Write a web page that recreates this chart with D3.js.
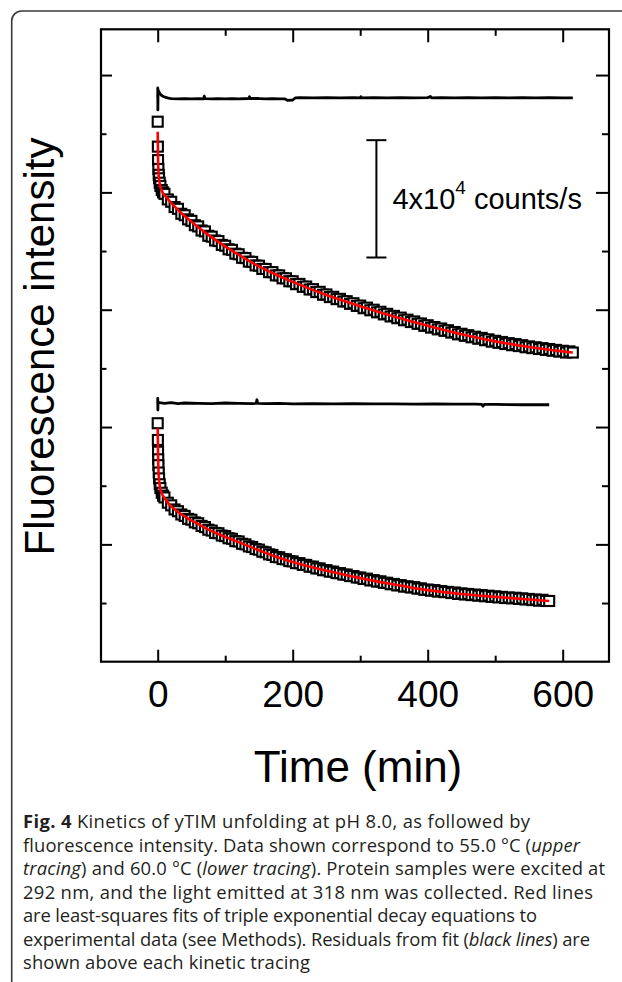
<!DOCTYPE html>
<html>
<head>
<meta charset="utf-8">
<script src="https://cdn.jsdelivr.net/npm/d3@7"></script>
<style>
  body { margin: 0; background: #fff; }
  svg { display: block; }
</style>
</head>
<body>
<svg id="chart" width="622" height="982"></svg>
<script>

// upper tracing (55.0 C), fluorescence in units of 10^4 counts/s
const upperTime = [0, 0.25, 0.5, 1, 1.5, 2, 3, 4, 6, 8,
    10, 15, 20, 25, 30, 35, 40, 45, 50, 55, 60, 65, 70, 75, 80, 85, 90, 95, 100, 105,
    110, 115, 120, 125, 130, 135, 140, 145, 150, 155, 160, 165, 170, 175, 180, 185, 190, 195, 200, 205,
    210, 215, 220, 225, 230, 235, 240, 245, 250, 255, 260, 265, 270, 275, 280, 285, 290, 295, 300, 305,
    310, 315, 320, 325, 330, 335, 340, 345, 350, 355, 360, 365, 370, 375, 380, 385, 390, 395, 400, 405,
    410, 415, 420, 425, 430, 435, 440, 445, 450, 455, 460, 465, 470, 475, 480, 485, 490, 495, 500, 505,
    510, 515, 520, 525, 530, 535, 540, 545, 550, 555, 560, 565, 570, 575, 580, 585, 590, 595, 600, 605,
    610, 615];
const upperCounts = [18.41, 17.56, 17.10, 16.80, 16.60, 16.48, 16.33, 16.22, 16.08, 16.00,
    15.95, 15.76, 15.68, 15.50, 15.44, 15.27, 15.22, 15.08, 15.03, 14.88, 14.84, 14.70, 14.67, 14.52, 14.49, 14.36, 14.34, 14.21, 14.18, 14.06,
    14.04, 13.91, 13.89, 13.77, 13.76, 13.64, 13.63, 13.51, 13.50, 13.39, 13.39, 13.28, 13.28, 13.17, 13.17, 13.07, 13.07, 12.97, 12.97, 12.87,
    12.88, 12.78, 12.79, 12.69, 12.70, 12.60, 12.61, 12.51, 12.52, 12.43, 12.44, 12.36, 12.37, 12.28, 12.29, 12.20, 12.22, 12.13, 12.14, 12.05,
    12.07, 11.98, 12.00, 11.91, 11.93, 11.84, 11.86, 11.77, 11.79, 11.71, 11.73, 11.64, 11.66, 11.58, 11.60, 11.52, 11.53, 11.45, 11.47, 11.39,
    11.41, 11.33, 11.36, 11.28, 11.30, 11.22, 11.24, 11.16, 11.18, 11.11, 11.13, 11.06, 11.08, 11.01, 11.04, 10.96, 10.99, 10.91, 10.94, 10.87,
    10.90, 10.83, 10.86, 10.79, 10.83, 10.76, 10.79, 10.72, 10.75, 10.69, 10.72, 10.66, 10.69, 10.63, 10.66, 10.60, 10.63, 10.57, 10.60, 10.54,
    10.58, 10.54];
const upperFitTime = [0, 0.5, 1, 2, 3, 5, 8, 15, 20, 33, 50, 75, 100, 125, 150, 175, 200, 250, 300, 350, 400, 450, 500, 550, 600, 615];
const upperFit = [18.07, 17.20, 16.75, 16.45, 16.30, 16.12, 15.97, 15.78, 15.64, 15.34, 15.00, 14.55, 14.16, 13.80, 13.48, 13.20, 12.95, 12.50, 12.12, 11.77, 11.45, 11.16, 10.92, 10.73, 10.58, 10.54];

// lower tracing (60.0 C)
const lowerTime = [0, 0.25, 0.5, 0.75, 1, 1.5, 2, 3, 4, 6, 8,
    10, 15, 20, 25, 30, 35, 40, 45, 50, 55, 60, 65, 70, 75, 80, 85, 90, 95, 100, 105,
    110, 115, 120, 125, 130, 135, 140, 145, 150, 155, 160, 165, 170, 175, 180, 185, 190, 195, 200, 205,
    210, 215, 220, 225, 230, 235, 240, 245, 250, 255, 260, 265, 270, 275, 280, 285, 290, 295, 300, 305,
    310, 315, 320, 325, 330, 335, 340, 345, 350, 355, 360, 365, 370, 375, 380, 385, 390, 395, 400, 405,
    410, 415, 420, 425, 430, 435, 440, 445, 450, 455, 460, 465, 470, 475, 480, 485, 490, 495, 500, 505,
    510, 515, 520, 525, 530, 535, 540, 545, 550, 555, 560, 565, 570, 575, 580];
const lowerCounts = [8.13, 7.56, 7.16, 6.90, 6.70, 6.45, 6.25, 6.05, 5.92, 5.76, 5.66,
    5.60, 5.42, 5.33, 5.19, 5.13, 5.02, 4.97, 4.87, 4.84, 4.75, 4.72, 4.63, 4.59, 4.50, 4.47, 4.39, 4.38, 4.30, 4.28, 4.21,
    4.19, 4.11, 4.10, 4.02, 4.00, 3.93, 3.91, 3.84, 3.82, 3.75, 3.73, 3.66, 3.64, 3.57, 3.56, 3.50, 3.49, 3.43, 3.42, 3.36,
    3.36, 3.30, 3.30, 3.24, 3.24, 3.18, 3.18, 3.12, 3.12, 3.07, 3.07, 3.02, 3.02, 2.97, 2.97, 2.92, 2.92, 2.87, 2.87, 2.82,
    2.83, 2.77, 2.78, 2.73, 2.74, 2.69, 2.69, 2.64, 2.65, 2.60, 2.61, 2.56, 2.57, 2.53, 2.54, 2.49, 2.50, 2.45, 2.46, 2.42,
    2.44, 2.39, 2.41, 2.37, 2.38, 2.34, 2.36, 2.31, 2.33, 2.29, 2.31, 2.27, 2.29, 2.25, 2.27, 2.23, 2.25, 2.21, 2.23, 2.19,
    2.21, 2.17, 2.19, 2.16, 2.18, 2.14, 2.16, 2.12, 2.14, 2.10, 2.12, 2.08, 2.11, 2.07, 2.07];
const lowerFitTime = [0, 0.5, 1, 2, 3, 6, 10, 18, 25, 33, 45, 58, 82, 112, 150, 175, 200, 250, 300, 350, 400, 450, 500, 550, 580];
const lowerFit = [7.96, 7.10, 6.60, 6.20, 6.00, 5.74, 5.58, 5.34, 5.20, 5.06, 4.88, 4.72, 4.43, 4.15, 3.80, 3.58, 3.40, 3.10, 2.85, 2.63, 2.44, 2.31, 2.21, 2.12, 2.07];

// residuals of the fits, drawn shifted above each tracing
const upperResidOffset = 19.22;
const upperResidTime = [0, 0.1, 0.25, 0.5, 1, 2, 3, 5, 8, 12, 16, 20, 30, 40, 50, 60, 68, 69, 70, 80, 90, 100, 110, 120, 135, 136, 137,
    150, 160, 170, 180, 188, 192, 200, 204, 210, 230, 250, 270, 290, 300, 301, 302, 320, 340, 360, 380, 400, 404, 406,
    420, 440, 460, 480, 500, 520, 540, 560, 580, 600, 615];
const upperResid = [0, 0.34, -0.41, 0.28, 0.24, 0.20, 0.16, 0.10, 0.05, 0.02, -0.01, -0.02, -0.03, -0.02, -0.03, -0.02, -0.03, 0.06, -0.02, -0.03, -0.02, -0.03, -0.02, -0.03, -0.02, 0.04, -0.02,
    -0.02, -0.03, -0.02, -0.03, -0.03, -0.08, -0.07, 0.00, 0.01, 0.00, 0.01, 0.00, 0.01, 0.00, 0.04, 0.00, 0.01, 0.00, 0.01, 0.00, 0.01, 0.05, 0.00,
    0.01, 0.00, 0.01, 0.00, 0.01, 0.00, 0.01, 0.00, 0.01, 0.00, 0.00];

const lowerResidOffset = 8.81;
const lowerResidTime = [0, 0.1, 0.25, 0.5, 1, 3, 10, 20, 30, 40, 60, 80, 100, 120, 140, 146, 147, 148, 160, 180, 200,
    230, 260, 290, 320, 350, 380, 410, 440, 470, 480, 482, 484, 500, 540, 580];
const lowerResid = [0, 0.17, -0.23, 0.05, 0.03, 0.02, 0.00, 0.02, -0.01, 0.01, 0.00, -0.01, 0.01, 0.00, -0.01, 0.00, 0.12, 0.00, -0.01, 0.00, -0.02,
    -0.01, -0.02, -0.01, -0.02, -0.02, -0.03, -0.02, -0.03, -0.03, -0.04, -0.10, -0.04, -0.04, -0.05, -0.05];

// scale bar: 4x10^4 counts/s
const scaleBar = { time: 324, from: 13.78, to: 17.78 };

const xMajorTicks = [0, 200, 400, 600];
const xMinorTicks = [100, 300, 500];
const yMajorTicks = [4, 8, 12, 16, 20];
const yMinorTicks = [2, 6, 10, 14, 18];

const captionLines = [
    [["b", "Fig. 4"], ["", " Kinetics of yTIM unfolding at pH 8.0, as followed by"]],
    [["", "fluorescence intensity. Data shown correspond to 55.0 °C ("], ["i", "upper"]],
    [["i", "tracing"], ["", ") and 60.0 °C ("], ["i", "lower tracing"], ["", "). Protein samples were excited at"]],
    [["", "292 nm, and the light emitted at 318 nm was collected. Red lines"]],
    [["", "are least-squares fits of triple exponential decay equations to"]],
    [["", "experimental data (see Methods). Residuals from fit ("], ["i", "black lines"], ["", ") are"]],
    [["", "shown above each kinetic tracing"]]
];
const captionWidths = [507, 557, 582, 570, 514, 567, 287];

const svg = d3.select("#chart");
const margin = { top: 29.3, right: 13, bottom: 320.3, left: 101 };
const width = +svg.attr("width") - margin.left - margin.right;
const height = +svg.attr("height") - margin.top - margin.bottom;
const plotFont = "'Liberation Sans', Arial, sans-serif";

// outer panel border (rounded top-left corner)
svg.append("path")
    .attr("d", "M11.7,982 V21 A10,10 0 0 1 21.7,11 H622")
    .attr("fill", "none")
    .attr("stroke", "#3a3a3a")
    .attr("stroke-width", 1.6);

const chartArea = svg.append("g").attr("transform", `translate(${margin.left},${margin.top})`);

const xScale = d3.scaleLinear().domain([-84, 668.6]).range([0, width]);
const yScale = d3.scaleLinear().domain([0, 21.56]).range([height, 0]);

// axes, ticks pointing inward on all four sides
function addAxis(axis, transform) {
    const g = chartArea.append("g").attr("transform", transform).call(axis);
    g.select(".domain").remove();
    g.selectAll(".tick line").attr("stroke", "#000").attr("stroke-width", 2);
    return g;
}

const bottomMajor = addAxis(d3.axisBottom(xScale).tickValues(xMajorTicks).tickSizeInner(-12).tickSizeOuter(0).tickPadding(19),
    `translate(0,${height})`);
bottomMajor.selectAll("text")
    .attr("font-family", plotFont)
    .attr("font-size", 37)
    .attr("fill", "#000");
addAxis(d3.axisBottom(xScale).tickValues(xMinorTicks).tickSizeInner(-6).tickSizeOuter(0).tickFormat(""), `translate(0,${height})`);
addAxis(d3.axisTop(xScale).tickValues(xMajorTicks).tickSizeInner(-13).tickSizeOuter(0).tickFormat(""), "translate(0,0)");
addAxis(d3.axisTop(xScale).tickValues(xMinorTicks).tickSizeInner(-6.5).tickSizeOuter(0).tickFormat(""), "translate(0,0)");
addAxis(d3.axisLeft(yScale).tickValues(yMajorTicks).tickSizeInner(-11).tickSizeOuter(0).tickFormat(""), "translate(0,0)");
addAxis(d3.axisLeft(yScale).tickValues(yMinorTicks).tickSizeInner(-5.5).tickSizeOuter(0).tickFormat(""), "translate(0,0)");
addAxis(d3.axisRight(yScale).tickValues(yMajorTicks).tickSizeInner(-13).tickSizeOuter(0).tickFormat(""), `translate(${width},0)`);
addAxis(d3.axisRight(yScale).tickValues(yMinorTicks).tickSizeInner(-7).tickSizeOuter(0).tickFormat(""), `translate(${width},0)`);

chartArea.append("rect")
    .attr("width", width)
    .attr("height", height)
    .attr("fill", "none")
    .attr("stroke", "#000")
    .attr("stroke-width", 2.2);

const line = d3.line()
    .x(d => xScale(d[0]))
    .y(d => yScale(d[1]));

function drawTracing(times, counts, fitTimes, fitValues) {
    const pts = times.map((t, i) => [t, counts[i]]);
    chartArea.append("g")
        .selectAll("rect")
        .data(pts)
        .enter().append("rect")
        .attr("x", d => xScale(d[0]) - 5)
        .attr("y", d => yScale(d[1]) - 5)
        .attr("width", 10)
        .attr("height", 10)
        .attr("fill", "#fff")
        .attr("stroke", "#000")
        .attr("stroke-width", 2.1);

    chartArea.append("path")
        .datum(fitTimes.map((t, i) => [t, fitValues[i]]))
        .attr("d", line.curve(d3.curveMonotoneX))
        .attr("fill", "none")
        .attr("stroke", "#ff0000")
        .attr("stroke-width", 2.6);
}

function drawResidual(times, resid, offset) {
    chartArea.append("path")
        .datum(times.map((t, i) => [t, resid[i] + offset]))
        .attr("d", line.curve(d3.curveLinear))
        .attr("fill", "none")
        .attr("stroke", "#000")
        .attr("stroke-width", 2.8)
        .attr("stroke-linejoin", "round");
}

drawResidual(upperResidTime, upperResid, upperResidOffset);
drawResidual(lowerResidTime, lowerResid, lowerResidOffset);
drawTracing(upperTime, upperCounts, upperFitTime, upperFit);
drawTracing(lowerTime, lowerCounts, lowerFitTime, lowerFit);

// scale bar
const barX = xScale(scaleBar.time);
const bar = chartArea.append("g").attr("stroke", "#000").attr("stroke-width", 2);
bar.append("line").attr("x1", barX).attr("x2", barX).attr("y1", yScale(scaleBar.from)).attr("y2", yScale(scaleBar.to));
bar.append("line").attr("x1", barX - 10).attr("x2", barX + 10).attr("y1", yScale(scaleBar.from)).attr("y2", yScale(scaleBar.from));
bar.append("line").attr("x1", barX - 10).attr("x2", barX + 10).attr("y1", yScale(scaleBar.to)).attr("y2", yScale(scaleBar.to));

const barLabel = chartArea.append("text")
    .attr("x", barX + 16)
    .attr("y", yScale((scaleBar.from + scaleBar.to) / 2) + 10.5)
    .attr("font-family", plotFont)
    .attr("font-size", 29)
    .attr("fill", "#000");
barLabel.append("tspan").text("4x10");
barLabel.append("tspan").attr("font-size", 19).attr("dy", -15).text("4");
barLabel.append("tspan").attr("dy", 15).text(" counts/s");

// axis titles
svg.append("text")
    .attr("transform", `translate(54,${margin.top + height / 2 + 1}) rotate(-90)`)
    .attr("text-anchor", "middle")
    .attr("font-family", plotFont)
    .attr("font-size", 42)
    .attr("fill", "#000")
    .text("Fluorescence intensity");

svg.append("text")
    .attr("x", margin.left + width / 2 + 3)
    .attr("y", 782)
    .attr("text-anchor", "middle")
    .attr("font-family", plotFont)
    .attr("font-size", 44)
    .attr("fill", "#000")
    .text("Time (min)");

// caption
const caption = svg.append("g")
    .attr("font-family", "'Open Sans', 'Noto Sans', sans-serif")
    .attr("font-size", 18.4)
    .attr("fill", "#231f20");

captionLines.forEach((parts, i) => {
    const t = caption.append("text")
        .attr("x", 23)
        .attr("y", 828 + i * 23.5)
        .attr("textLength", captionWidths[i])
        .attr("lengthAdjust", "spacing");
    parts.forEach(p => {
        const s = t.append("tspan").text(p[1]);
        if (p[0] === "b") s.attr("font-weight", "bold");
        if (p[0] === "i") s.attr("font-style", "italic");
    });
});
</script>
</body>
</html>
